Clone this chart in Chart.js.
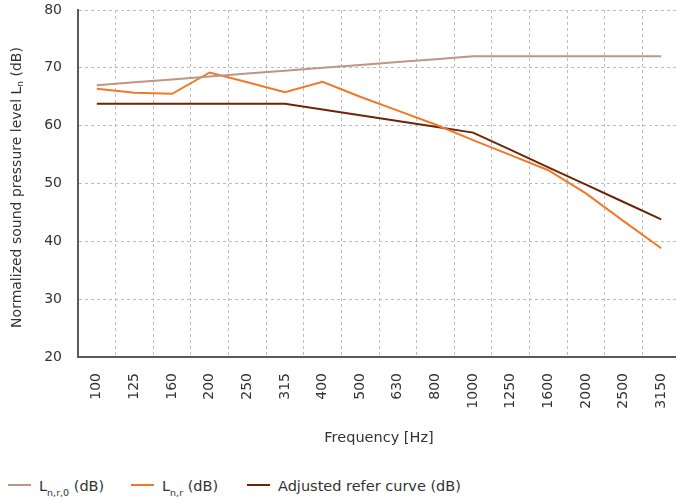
<!DOCTYPE html>
<html>
<head>
<meta charset="utf-8">
<script src="https://cdn.jsdelivr.net/npm/chart.js@4"></script>
<style>
  html, body { margin: 0; padding: 0; background: #fff; overflow: hidden; }
  #wrap { position: relative; width: 680px; height: 501px; }
  #box { position: absolute; left: 0; top: 0; width: 680px; height: 462px; }
  .legend { position: absolute; top: 476px; left: 0; font-family: "DejaVu Sans", sans-serif; font-size: 14.5px; color: #333; }
  .item { position: absolute; white-space: nowrap; line-height: 20px; }
  .item i { display: inline-block; width: 23px; height: 2px; margin-right: 8px; vertical-align: 5px; }
  .item sub { font-size: 9.5px; vertical-align: -5px; line-height: 0; }
</style>
</head>
<body>
<div id="wrap">
  <div id="box"><canvas id="myChart"></canvas></div>
  <div class="legend" id="legend"></div>
</div>
<script>
const frequencies = ['100', '125', '160', '200', '250', '315', '400', '500', '630', '800', '1000', '1250', '1600', '2000', '2500', '3150'];

// L n,r,0 (dB)
const lnr0 = [67.0, 67.5, 68.0, 68.5, 69.0, 69.5, 70.0, 70.5, 71.0, 71.5, 72.0, 72.0, 72.0, 72.0, 72.0, 72.0];
// L n,r (dB)
const lnr = [66.4, 65.7, 65.5, 69.2, 67.5, 65.8, 67.6, 65.0, 62.6, 60.2, 57.5, 54.9, 52.3, 48.3, 43.5, 38.8];
// Adjusted refer curve (dB)
const adjusted = [63.8, 63.8, 63.8, 63.8, 63.8, 63.8, 62.8, 61.8, 60.8, 59.8, 58.8, 55.8, 52.8, 49.8, 46.8, 43.8];

const yTicks = [20, 30, 40, 50, 60, 70, 80];

const series = [
    { main: 'L', sub: 'n,r,0', tail: ' (dB)', data: lnr0, color: '#bf9583', left: 8 },
    { main: 'L', sub: 'n,r', tail: ' (dB)', data: lnr, color: '#f47727', left: 131 },
    { main: 'Adjusted refer curve (dB)', sub: '', tail: '', data: adjusted, color: '#6b2508', left: 247 }
];

const FONT = '"DejaVu Sans", sans-serif';

// y axis title with the subscript n
const yTitle = {
    id: 'yTitle',
    afterDraw(chart) {
        const c = chart.ctx;
        const area = chart.chartArea;
        const big = '14px ' + FONT, small = '9px ' + FONT;
        const p1 = 'Normalized sound pressure level L', p2 = 'n', p3 = ' (dB)';
        c.save();
        c.font = big;
        const w1 = c.measureText(p1).width, w3 = c.measureText(p3).width;
        c.font = small;
        const w2 = c.measureText(p2).width;
        const total = w1 + w2 + w3;
        c.translate(17, (area.top + area.bottom) / 2 + 4);
        c.rotate(-Math.PI / 2);
        c.fillStyle = '#333';
        c.textBaseline = 'middle';
        let x = -total / 2;
        c.font = big; c.fillText(p1, x, 0); x += w1;
        c.font = small; c.fillText(p2, x, 4); x += w2;
        c.font = big; c.fillText(p3, x, 0);
        c.restore();
    }
};

const ctx = document.getElementById('myChart').getContext('2d');

new Chart(ctx, {
    type: 'line',
    data: {
        labels: frequencies,
        datasets: series.map(s => ({
            label: s.main + s.sub + s.tail,
            data: s.data,
            borderColor: s.color,
            backgroundColor: s.color,
            borderWidth: 2,
            pointRadius: 0,
            tension: 0
        }))
    },
    options: {
        responsive: true,
        maintainAspectRatio: false,
        animation: false,
        layout: { padding: { top: 10, right: 0, left: 0, bottom: 0 } },
        scales: {
            x: {
                offset: true,
                afterFit: s => { s.height = 105; s.paddingLeft = 0; s.paddingRight = 0; },
                grid: { offset: true, drawTicks: false, color: '#bdbdbd', lineWidth: 1 },
                border: { display: true, color: '#5a5a5a', width: 2, dash: [3, 3] },
                ticks: { font: { family: FONT, size: 14 }, color: '#333', maxRotation: 90, minRotation: 90, padding: 16, autoSkip: false },
                title: { display: true, text: 'Frequency [Hz]', font: { family: FONT, size: 14.5 }, color: '#333', padding: { top: 0, bottom: 15 } }
            },
            y: {
                min: 20,
                max: 80,
                afterFit: s => { s.width = 78; s.paddingTop = 0; s.paddingBottom = 0; },
                afterBuildTicks: s => { s.ticks = yTicks.map(v => ({ value: v })); },
                grid: { drawTicks: false, color: '#bdbdbd', lineWidth: 1 },
                border: { display: true, color: '#5a5a5a', width: 2, dash: [3, 3] },
                ticks: { font: { family: FONT, size: 14 }, color: '#333', padding: 16 }
            }
        },
        plugins: {
            legend: { display: false },
            tooltip: { enabled: false }
        }
    },
    plugins: [yTitle]
});

// legend with subscripts
const legend = document.getElementById('legend');
series.forEach(s => {
    const el = document.createElement('span');
    el.className = 'item';
    el.style.left = s.left + 'px';
    el.innerHTML = '<i style="background:' + s.color + '"></i>' + s.main +
        (s.sub ? '<sub>' + s.sub + '</sub>' : '') + s.tail;
    legend.appendChild(el);
});
</script>
</body>
</html>
